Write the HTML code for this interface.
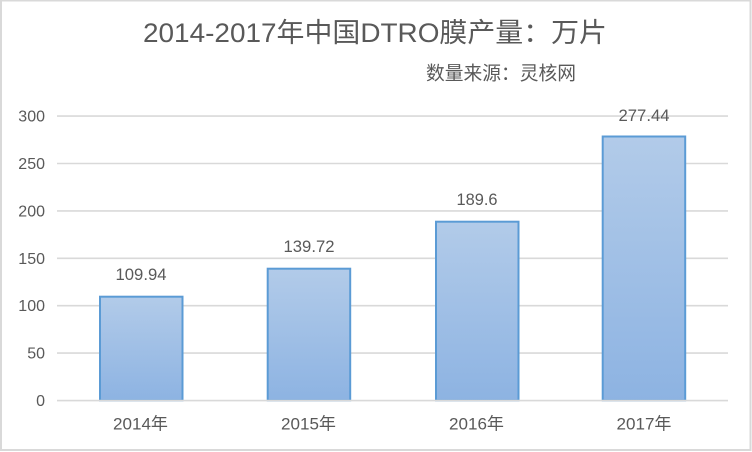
<!DOCTYPE html>
<html>
<head>
<meta charset="utf-8">
<style>
  html, body { margin: 0; padding: 0; background: #fff; }
  svg { display: block; }
  text { font-family: "Liberation Sans", "Noto Sans CJK SC", sans-serif; fill: #595959; }
</style>
</head>
<body>
<svg width="752" height="452" viewBox="0 0 752 452" xmlns="http://www.w3.org/2000/svg">
  <defs>
    <linearGradient id="g" x1="0" y1="0" x2="0" y2="1">
      <stop offset="0" stop-color="#b2cbe9"/>
      <stop offset="1" stop-color="#8db3e2"/>
    </linearGradient>
  </defs>
  <rect x="0" y="0" width="752" height="452" fill="#fff"/>
  <!-- outer border -->
  <rect x="1" y="0.5" width="749.5" height="449.5" fill="none" stroke="#d9d9d9" stroke-width="2"/>

  <!-- title -->
  <text x="143" y="42" font-size="27" textLength="464" lengthAdjust="spacingAndGlyphs">2014-2017年中国DTRO膜产量：万片</text>
  <text x="426" y="79.5" font-size="19" textLength="150" lengthAdjust="spacingAndGlyphs">数量来源：灵核网</text>

  <!-- gridlines -->
  <g stroke="#d9d9d9" stroke-width="1.6">
    <line x1="57" y1="116.1" x2="728" y2="116.1"/>
    <line x1="57" y1="163.5" x2="728" y2="163.5"/>
    <line x1="57" y1="210.9" x2="728" y2="210.9"/>
    <line x1="57" y1="258.3" x2="728" y2="258.3"/>
    <line x1="57" y1="305.7" x2="728" y2="305.7"/>
    <line x1="57" y1="353.1" x2="728" y2="353.1"/>
  </g>

  <!-- y tick labels -->
  <g font-size="16" text-anchor="end">
    <text x="45" y="121.6">300</text>
    <text x="45" y="169">250</text>
    <text x="45" y="216.4">200</text>
    <text x="45" y="263.8">150</text>
    <text x="45" y="311.2">100</text>
    <text x="45" y="358.6">50</text>
    <text x="45" y="406">0</text>
  </g>

  <!-- bars -->
  <g fill="url(#g)" stroke="#5b9bd5" stroke-width="2">
    <rect x="100" y="296.7" width="82.5" height="103.8"/>
    <rect x="267.7" y="268.7" width="82.5" height="131.8"/>
    <rect x="436" y="221.7" width="82.5" height="178.8"/>
    <rect x="602.7" y="136.5" width="82.5" height="264"/>
  </g>

  <!-- x axis line -->
  <line x1="57" y1="400.6" x2="728" y2="400.6" stroke="#d9d9d9" stroke-width="1.6"/>

  <!-- data labels -->
  <g font-size="17" text-anchor="middle">
    <text x="141" y="280" textLength="51" lengthAdjust="spacingAndGlyphs">109.94</text>
    <text x="309" y="252" textLength="51" lengthAdjust="spacingAndGlyphs">139.72</text>
    <text x="477" y="205" textLength="41" lengthAdjust="spacingAndGlyphs">189.6</text>
    <text x="644" y="121" textLength="51" lengthAdjust="spacingAndGlyphs">277.44</text>
  </g>

  <!-- x labels -->
  <g font-size="17" text-anchor="middle">
    <text x="140.5" y="429.5" textLength="55" lengthAdjust="spacingAndGlyphs">2014年</text>
    <text x="308.5" y="429.5" textLength="55" lengthAdjust="spacingAndGlyphs">2015年</text>
    <text x="476.5" y="429.5" textLength="55" lengthAdjust="spacingAndGlyphs">2016年</text>
    <text x="644" y="429.5" textLength="55" lengthAdjust="spacingAndGlyphs">2017年</text>
  </g>
</svg>
</body>
</html>
